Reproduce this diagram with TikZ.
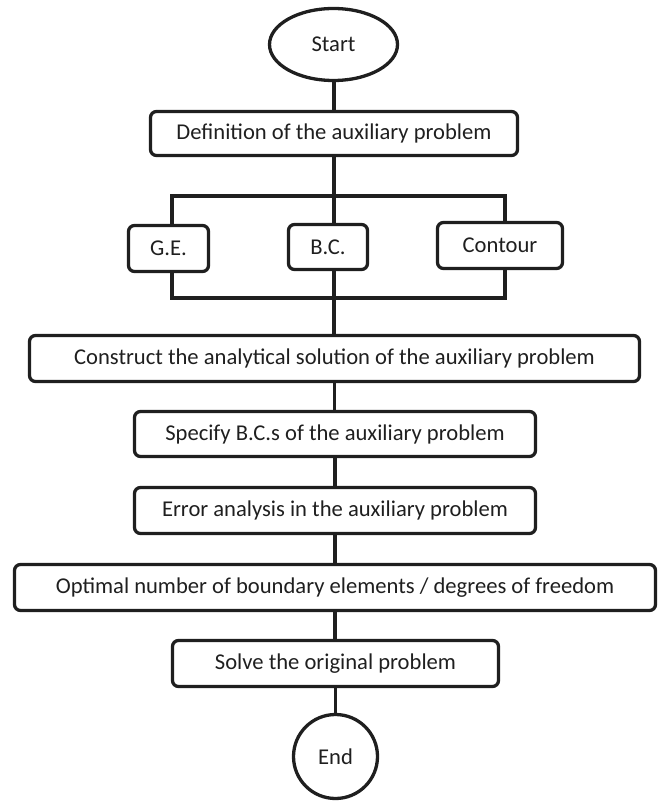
\documentclass[tikz,border=0pt]{standalone}
\usepackage{fontspec}
\setmainfont{Carlito}
\usetikzlibrary{shapes.geometric}
\begin{document}
\begin{tikzpicture}[x=1pt,y=-1pt,
  every node/.style={font=\fontsize{22.6}{27}\selectfont, text=black!88},
  box/.style={draw=black!88, line width=3.3pt, rounded corners=6pt, inner sep=0pt, align=center},
  oval/.style={draw=black!88, line width=3.3pt, ellipse, inner sep=0pt},
  conn/.style={draw=black!88, line width=3.3pt}]
\useasboundingbox (0,0) rectangle (664,802);
\node[oval, minimum width=128pt, minimum height=72pt] (start) at (333.5,44.5) {Start};
\node[box, minimum width=367pt, minimum height=44pt] (def) at (334,133.5) {Definition of the auxiliary problem};
\node[box, minimum width=80pt, minimum height=46pt] (ge) at (168.5,248.5) {G.E.};
\node[box, minimum width=79pt, minimum height=45pt] (bc) at (328,247) {B.C.};
\node[box, minimum width=125pt, minimum height=46pt] (contour) at (500,245.5) {Contour};
\node[box, minimum width=610pt, minimum height=46pt] (construct) at (334.5,358.5) {Construct the analytical solution of the auxiliary problem};
\node[box, minimum width=401pt, minimum height=45pt] (specify) at (335,434) {Specify B.C.s of the auxiliary problem};
\node[box, minimum width=401pt, minimum height=46pt] (error) at (335,510.5) {Error analysis in the auxiliary problem};
\node[box, minimum width=641pt, minimum height=46pt] (optimal) at (335,587.5) {Optimal number of boundary elements / degrees of freedom};
\node[box, minimum width=326pt, minimum height=46pt] (solve) at (335.5,663.5) {Solve the original problem};
\node[oval, minimum width=84pt, minimum height=84pt] (end) at (335.5,756.5) {End};
\coordinate (tl) at (172,196);
\coordinate (tr) at (505,196);
\coordinate (bl) at (172,298);
\coordinate (br) at (505,298);
\coordinate (mid) at (334,196);
\draw[conn] (start.south -| mid) -- (def.north -| mid);
\draw[conn] (def.south -| mid) -- (bc.north -| mid);
\draw[conn] (tl |- ge.north) -- (tl) -- (tr) -- (tr |- contour.north);
\draw[conn] (ge.south -| bl) -- (bl) -- (br) -- (contour.south -| br);
\draw[conn] (bc.south -| mid) -- (construct.north -| mid);
\draw[conn] (construct.south) -- (construct.south |- specify.north);
\draw[conn] (specify.south) -- (specify.south |- error.north);
\draw[conn] (error.south) -- (error.south |- optimal.north);
\draw[conn] (optimal.south) -- (optimal.south |- solve.north);
\draw[conn] (solve.south) -- (solve.south |- end.north);
\end{tikzpicture}
\end{document}
